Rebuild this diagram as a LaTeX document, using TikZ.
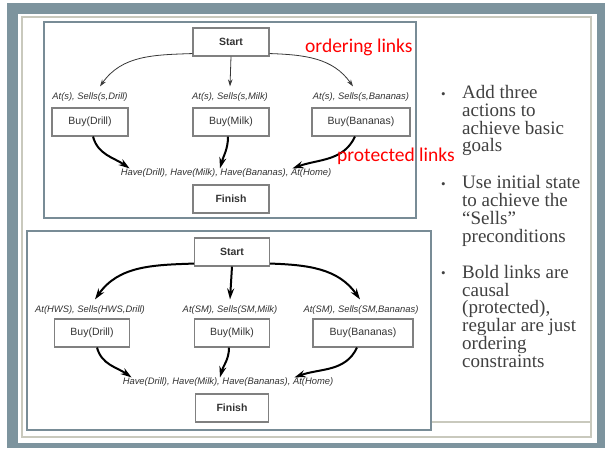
\documentclass[tikz,border=0pt]{standalone}
\usepackage{fontspec}
\setmainfont{Liberation Serif}
\newfontfamily\diagfont{Liberation Sans}
\newfontfamily\notefont{Carlito}
\usetikzlibrary{arrows.meta}

\begin{document}
\begin{tikzpicture}[x=1pt,y=1pt,
  stepbox/.style={draw=boxColor,line width=1.1pt,fill=white,minimum width=76pt,minimum height=28pt,inner sep=0pt,text=textColor,font=\diagfont\fontsize{10.5}{12}\selectfont},
  condtext/.style={inner sep=1pt,text=textColor,font=\diagfont\itshape\fontsize{9.4}{11}\selectfont},
  order/.style={draw=linkColor,line width=0.8pt,-{Stealth[length=7pt,width=4.5pt]}},
  causal/.style={draw=black,line width=2pt,-{Stealth[length=11pt,width=7pt]}},
  remark/.style={text=red,inner sep=0pt,anchor=base west,font=\notefont\fontsize{19.5}{22}\selectfont},
  bulletmark/.style={text=noteColor,inner sep=0pt,anchor=base west,font=\fontsize{13}{14}\selectfont},
  bullettext/.style={text=noteColor,inner sep=0pt,anchor=base west,align=left,font=\fontsize{19}{17.7}\selectfont}]
\definecolor[named]{frameColor}{rgb}{0.49,0.58,0.62}
\definecolor[named]{rimColor}{rgb}{0.79,0.79,0.74}
\definecolor[named]{paneColor}{rgb}{0.47,0.55,0.59}
\definecolor[named]{boxColor}{rgb}{0.50,0.50,0.50}
\definecolor[named]{textColor}{rgb}{0.20,0.20,0.20}
\definecolor[named]{linkColor}{rgb}{0.22,0.22,0.22}
\definecolor[named]{noteColor}{rgb}{0.25,0.25,0.25}

% slide frame
\path[use as bounding box,fill=white] (0,0) rectangle (605,448);
\fill[frameColor] (7,0) rectangle (605,445);
\fill[white] (18,5) rectangle (597,434);
\draw[rimColor,line width=1.5pt] (22,11) rectangle (591,431);
\draw[rimColor,line width=1.5pt] (431,26) -- (591,26);
\draw[paneColor,line width=2pt,fill=white] (44,426) rectangle (416,230);
\draw[paneColor,line width=2pt,fill=white] (27,217) rectangle (431,18);

% upper plan
\node[stepbox,font=\diagfont\bfseries\fontsize{10.5}{12}\selectfont] (startA) at (231,406) {Start};
\node[condtext] (preDrillA) at (90,351) {At(s), Sells(s,Drill)};
\node[condtext] (preMilkA) at (230,351) {At(s), Sells(s,Milk)};
\node[condtext] (preBananasA) at (361,351) {At(s), Sells(s,Bananas)};
\node[stepbox] (buyDrillA) at (90,326) {Buy(Drill)};
\node[stepbox] (buyMilkA) at (231,326) {Buy(Milk)};
\node[stepbox,minimum width=98pt] (buyBananasA) at (361,326) {Buy(Bananas)};
\node[condtext] (goalA) at (226,275) {Have(Drill), Have(Milk), Have(Bananas), At(Home)};
\node[stepbox,font=\diagfont\bfseries\fontsize{10.5}{12}\selectfont] (finishA) at (231,249) {Finish};

\draw[order] ([yshift=3pt]startA.south west) to[out=182,in=55] ([xshift=10pt,yshift=5pt]preDrillA.north);
\draw[order] (startA.south) -- ([yshift=5pt]preMilkA.north);
\draw[order] ([yshift=3pt]startA.south east) to[out=-2,in=125] ([xshift=-8pt,yshift=5pt]preBananasA.north);
\draw[causal] ([xshift=3pt]buyDrillA.south) to[out=-75,in=145] ([xshift=10pt,yshift=-1pt]goalA.north west);
\draw[causal] ([xshift=-3pt]buyMilkA.south) to[out=-90,in=75] ([xshift=-6pt,yshift=-1pt]goalA.north);
\draw[causal] ([xshift=-6pt]buyBananasA.south) to[out=-115,in=20] ([xshift=-40pt,yshift=-1pt]goalA.north east);

\node[remark] (orderNote) at (305,395) {ordering links};
\node[remark] (protectNote) at (337,287) {protected links};

% lower plan
\node[stepbox,font=\diagfont\bfseries\fontsize{10.5}{12}\selectfont,minimum width=75pt] (startB) at (232,196) {Start};
\node[condtext] (preDrillB) at (90,138) {At(HWS), Sells(HWS,Drill)};
\node[condtext] (preMilkB) at (230,138) {At(SM), Sells(SM,Milk)};
\node[condtext] (preBananasB) at (361,138) {At(SM), Sells(SM,Bananas)};
\node[stepbox,minimum width=75pt] (buyDrillB) at (92,115) {Buy(Drill)};
\node[stepbox,minimum width=75pt] (buyMilkB) at (232,115) {Buy(Milk)};
\node[stepbox,minimum width=100pt] (buyBananasB) at (363,115) {Buy(Bananas)};
\node[condtext] (goalB) at (228,66) {Have(Drill), Have(Milk), Have(Bananas), At(Home)};
\node[stepbox,font=\diagfont\bfseries\fontsize{10.5}{12}\selectfont,minimum width=73pt] (finishB) at (232,40) {Finish};

\draw[causal] ([yshift=3pt]startB.south west) to[out=182,in=55] ([xshift=5pt,yshift=5pt]preDrillB.north);
\draw[causal] (startB.south) -- ([yshift=5pt]preMilkB.north);
\draw[causal] ([yshift=3pt]startB.south east) to[out=-2,in=125] ([xshift=-1pt,yshift=5pt]preBananasB.north);
\draw[causal] ([xshift=5pt]buyDrillB.south) to[out=-75,in=145] ([xshift=10pt,yshift=-1pt]goalB.north west);
\draw[causal] ([xshift=-3pt]buyMilkB.south) to[out=-90,in=75] ([xshift=-8pt,yshift=-1pt]goalB.north);
\draw[causal] ([xshift=-6pt]buyBananasB.south) to[out=-115,in=20] ([xshift=-40pt,yshift=-1pt]goalB.north east);

% bullet notes (base anchor sits on the last line)
\node[bulletmark] (dotA) at (441,349) {\textbullet};
\node[bullettext] (noteA) at (462,296) {Add three\\actions to\\achieve basic\\goals};
\node[bulletmark] (dotB) at (441,260) {\textbullet};
\node[bullettext] (noteB) at (462,206) {Use initial state\\to achieve the\\“Sells”\\preconditions};
\node[bulletmark] (dotC) at (441,171) {\textbullet};
\node[bullettext] (noteC) at (462,81) {Bold links are\\causal\\(protected),\\regular are just\\ordering\\constraints};
\end{tikzpicture}
\end{document}
